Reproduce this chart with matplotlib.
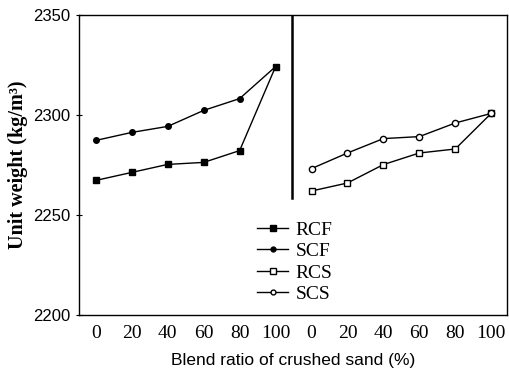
import matplotlib
matplotlib.use("Agg")
import matplotlib.pyplot as plt
from matplotlib.lines import Line2D

ratios = [0, 20, 40, 60, 80, 100]
tick_labels = ["0", "20", "40", "60", "80", "100", "0", "20", "40", "60", "80", "100"]
rcf = [2267.3, 2271.3, 2275.3, 2276.3, 2282.2, 2324.2]
scf = [2287.3, 2291.3, 2294.3, 2302.3, 2308.2, 2324.2]
rcs = [2262.0, 2266.0, 2275.2, 2281.0, 2283.0, 2300.8]
scs = [2273.2, 2281.0, 2288.2, 2289.2, 2296.0, 2300.8]

fig = plt.figure(figsize=(5.09, 3.74), dpi=100)
ax = fig.add_axes([79/509, 1 - 315/374, (507-79)/509, (315-15)/374])

xl = [i for i in range(len(ratios))]
xr = [i + len(ratios) for i in range(len(ratios))]

ax.plot(xl, rcf, '-', color='black', lw=1.0, marker='s', ms=5, mfc='black', mec='black')
ax.plot(xl, scf, '-', color='black', lw=1.0, marker='o', ms=4, mfc='black', mec='black')
ax.plot(xr, rcs, '-', color='black', lw=1.0, marker='s', ms=5, mfc='white', mec='black', mew=1.0)
ax.plot(xr, scs, '-', color='black', lw=1.0, marker='o', ms=4.5, mfc='white', mec='black', mew=1.0)

# divider
ax.plot([5.45, 5.45], [2350, 2258.5], color='black', lw=1.8)

ax.set_xlim(-0.47, 11.44)
ax.set_ylim(2200, 2350)
ax.set_yticks([2200, 2250, 2300, 2350])
ax.set_xticks(xl + xr)
ax.set_xticklabels(tick_labels, family='Liberation Serif', fontsize=14)
for t in ax.get_yticklabels():
    t.set_family('Liberation Sans')
    t.set_fontsize(12)
ax.tick_params(axis='x', length=0, pad=7)
ax.tick_params(axis='y', direction='inout', length=4, pad=4)
for s in ax.spines.values():
    s.set_linewidth(1.0)

ax.set_xlabel("Blend ratio of crushed sand (%)", family='Liberation Sans', fontsize=12.5, labelpad=8)
ax.set_ylabel("Unit weight (kg/m³)", family='Liberation Serif', fontsize=14.5, fontweight='bold', labelpad=4)

handles = [
    Line2D([], [], color='black', lw=1.0, marker='s', ms=4, mfc='black', mec='black'),
    Line2D([], [], color='black', lw=1.0, marker='o', ms=3.5, mfc='black', mec='black'),
    Line2D([], [], color='black', lw=1.0, marker='s', ms=4, mfc='white', mec='black'),
    Line2D([], [], color='black', lw=1.0, marker='o', ms=3.5, mfc='white', mec='black'),
]
ax.legend(handles, ["RCF", "SCF", "RCS", "SCS"], loc='upper left',
          bbox_to_anchor=((257-79)/(507-79), (315-221)/300), frameon=False,
          prop={'family': 'Liberation Serif', 'size': 14}, handlelength=1.6,
          handletextpad=0.4, labelspacing=0.2, borderaxespad=0, borderpad=0)

fig.savefig("out.png", dpi=100)
